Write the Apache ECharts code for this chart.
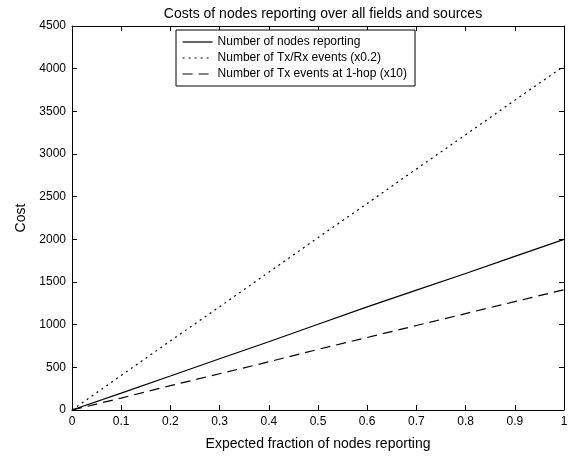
<!DOCTYPE html>
<html>
<head>
<meta charset="utf-8">
<script src="https://cdn.jsdelivr.net/npm/echarts@6/dist/echarts.min.js"></script>
<style>html,body{margin:0;padding:0;background:#fff}#c{width:576px;height:456px}</style>
</head>
<body>
<div id="c"></div>
<script>
var xValues = [0, 0.1, 0.2, 0.3, 0.4, 0.5, 0.6, 0.7, 0.8, 0.9, 1];
var nodesReporting = [0, 198, 398, 600, 800, 1005, 1208, 1405, 1600, 1800, 2000];
var txRxEvents = [0, 405, 810, 1210, 1615, 2020, 2420, 2825, 3225, 3630, 4030];
var txOneHop = [0, 140, 285, 425, 565, 710, 850, 990, 1130, 1270, 1410];
var seriesNames = ['Number of nodes reporting', 'Number of Tx/Rx events (x0.2)', 'Number of Tx events at 1-hop (x10)'];
var titleText = 'Costs of nodes reporting over all fields and sources';
var xName = 'Expected fraction of nodes reporting';
var yName = 'Cost';

function pairs(ys) { return xValues.map(function (x, i) { return [x, ys[i]]; }); }
var font = 'Liberation Sans, Arial, sans-serif';
function axisCommon() {
  return {
    axisLine: { show: true, onZero: false, lineStyle: { color: '#000', width: 1 } },
    axisTick: { show: true, inside: true, length: 5, lineStyle: { color: '#000' } },
    splitLine: { show: false }
  };
}
var chart = echarts.init(document.getElementById('c'));
chart.setOption({
  animation: false,
  backgroundColor: '#fff',
  title: { text: titleText, left: 318, textAlign: 'center', top: 2,
    textStyle: { fontFamily: font, fontSize: 14, fontWeight: 'normal', color: '#000' } },
  grid: { left: 72, right: 12, top: 26, bottom: 46 },
  legend: {
    orient: 'vertical', left: 176, top: 30, width: 233,
    padding: [6, 8, 6, 6], itemGap: 4, itemWidth: 30, itemHeight: 11,
    borderColor: '#000', borderWidth: 1, backgroundColor: '#fff',
    itemStyle: { color: 'rgba(0,0,0,0)', borderColor: 'rgba(0,0,0,0)', borderWidth: 0 },
    lineStyle: { width: 1.2 },
    textStyle: { fontFamily: font, fontSize: 12, color: '#000', width: 190 },
    data: seriesNames
  },
  xAxis: [
    Object.assign({ type: 'value', min: 0, max: 1, interval: 0.1, position: 'bottom',
      name: xName, nameLocation: 'middle', nameGap: 27,
      nameTextStyle: { fontFamily: font, fontSize: 14, color: '#000' },
      axisLabel: { fontFamily: font, fontSize: 12, color: '#000', margin: 6,
        formatter: function (v) { return String(Math.round(v * 10) / 10); } } }, axisCommon()),
    Object.assign({ type: 'value', min: 0, max: 1, interval: 0.1, position: 'top',
      axisLabel: { show: false } }, axisCommon())
  ],
  yAxis: [
    Object.assign({ type: 'value', min: 0, max: 4500, interval: 500, position: 'left',
      name: yName, nameLocation: 'middle', nameGap: 40, nameRotate: 90,
      nameTextStyle: { fontFamily: font, fontSize: 14, color: '#000' },
      axisLabel: { fontFamily: font, fontSize: 12, color: '#000', margin: 6,
        formatter: function (v) { return String(v); } } }, axisCommon()),
    Object.assign({ type: 'value', min: 0, max: 4500, interval: 500, position: 'right',
      axisLabel: { show: false } }, axisCommon())
  ],
  series: [
    { name: seriesNames[0], type: 'line', data: pairs(nodesReporting), showSymbol: false, symbol: 'none',
      lineStyle: { color: '#000', width: 1.2, type: 'solid' }, itemStyle: { color: '#000' } },
    { name: seriesNames[1], type: 'line', data: pairs(txRxEvents), showSymbol: false, symbol: 'none',
      lineStyle: { color: '#000', width: 1.2, type: [2, 4] }, itemStyle: { color: '#000' } },
    { name: seriesNames[2], type: 'line', data: pairs(txOneHop), showSymbol: false, symbol: 'none',
      lineStyle: { color: '#000', width: 1.2, type: [10, 6] }, itemStyle: { color: '#000' } }
  ]
});
</script>
</body>
</html>
